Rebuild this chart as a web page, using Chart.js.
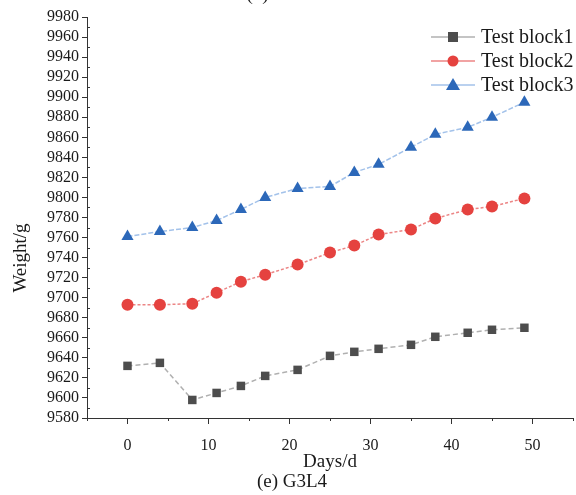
<!DOCTYPE html>
<html>
<head>
<meta charset="utf-8">
<script src="https://cdn.jsdelivr.net/npm/chart.js@4.4.1/dist/chart.umd.min.js"></script>
<style>
  html, body { margin: 0; padding: 0; background: #fff; }
  #wrap { width: 576px; height: 495px; }
</style>
</head>
<body>
<div id="wrap"><canvas id="weightChart" width="576" height="495"></canvas></div>
<script>
const days = [0, 4, 8, 11, 14, 17, 21, 25, 28, 31, 35, 38, 42, 45, 49];
const block1 = [9632, 9635, 9598, 9605, 9612, 9622, 9628, 9642, 9646, 9649, 9653, 9661, 9665, 9668, 9670];
const block2 = [9693, 9693, 9694, 9705, 9716, 9723, 9733, 9745, 9752, 9763, 9768, 9779, 9788, 9791, 9799];
const block3 = [9761, 9766, 9770, 9777, 9788, 9800, 9809, 9811, 9825, 9833, 9850, 9863, 9870, 9880, 9895];
const seriesNames = ['Test block1', 'Test block2', 'Test block3'];

const serif = '"Liberation Serif", "Times New Roman", serif';
const ink = '#1a1a1a';

function pts(vals) {
  return days.map((d, i) => ({ x: d, y: vals[i] }));
}

const styles = [
  { line: '#b0b0b0', mark: '#4d4d4d', shape: 'rect', radius: 6, dash: [5, 3] },
  { line: '#ec8585', mark: '#e5423f', shape: 'circle', radius: 6, dash: [3, 2] },
  { line: '#a3c2ea', mark: '#2c68b9', shape: 'triangle', radius: 7, dash: [5, 2] }
];

const datasets = [block1, block2, block3].map((vals, i) => ({
  label: seriesNames[i],
  data: pts(vals),
  borderColor: styles[i].line,
  borderWidth: 1.5,
  borderDash: styles[i].dash,
  backgroundColor: styles[i].mark,
  pointBackgroundColor: styles[i].mark,
  pointBorderColor: styles[i].mark,
  pointBorderWidth: 0,
  pointStyle: styles[i].shape,
  pointRadius: styles[i].radius,
  tension: 0
}));

// minor ticks, legend and texts
const decor = {
  id: 'decor',
  afterDraw(chart) {
    const { ctx, scales: { x, y }, chartArea } = chart;
    ctx.save();
    ctx.strokeStyle = '#333';
    ctx.lineWidth = 1;
    // y minor ticks (inward)
    for (let v = 9590; v < 9980; v += 20) {
      const py = Math.round(y.getPixelForValue(v)) + 0.5;
      ctx.beginPath();
      ctx.moveTo(chartArea.left, py);
      ctx.lineTo(chartArea.left + 3, py);
      ctx.stroke();
    }
    // x minor ticks
    for (let v = -5; v <= 55; v += 10) {
      const px = Math.round(x.getPixelForValue(v)) + 0.5;
      ctx.beginPath();
      ctx.moveTo(px, chartArea.bottom);
      ctx.lineTo(px, chartArea.bottom + 3);
      ctx.stroke();
    }

    // legend
    ctx.font = '20px ' + serif;
    ctx.textBaseline = 'middle';
    ctx.textAlign = 'left';
    seriesNames.forEach((name, i) => {
      const ly = 37 + i * 24;
      const st = styles[i];
      ctx.strokeStyle = st.line;
      ctx.lineWidth = 1.5;
      ctx.setLineDash([]);
      ctx.beginPath();
      ctx.moveTo(431, ly);
      ctx.lineTo(475, ly);
      ctx.stroke();
      ctx.fillStyle = st.mark;
      ctx.beginPath();
      if (st.shape === 'rect') {
        ctx.rect(448, ly - 5, 10, 10);
      } else if (st.shape === 'circle') {
        ctx.arc(453, ly, 5.5, 0, Math.PI * 2);
      } else {
        ctx.moveTo(453, ly - 7);
        ctx.lineTo(460, ly + 5);
        ctx.lineTo(446, ly + 5);
        ctx.closePath();
      }
      ctx.fill();
      ctx.fillStyle = ink;
      ctx.fillText(name, 481, ly + 1);
    });

    // y title
    ctx.save();
    ctx.translate(21, 258);
    ctx.rotate(-Math.PI / 2);
    ctx.textAlign = 'center';
    ctx.textBaseline = 'middle';
    ctx.font = '19px ' + serif;
    ctx.fillStyle = ink;
    ctx.fillText('Weight/g', 0, 0);
    ctx.restore();

    // captions
    ctx.textAlign = 'center';
    ctx.font = '19px ' + serif;
    ctx.fillStyle = ink;
    ctx.textBaseline = 'alphabetic';
    ctx.fillText('(e) G3L4', 292, 487);
    ctx.fillText('(d) G3L3', 282, 0);
    ctx.restore();
  }
};

new Chart(document.getElementById('weightChart').getContext('2d'), {
  type: 'line',
  data: { datasets },
  options: {
    responsive: false,
    animation: false,
    layout: { autoPadding: false, padding: { top: 17, right: 3, bottom: 22, left: 0 } },
    plugins: {
      legend: { display: false },
      tooltip: { enabled: false }
    },
    scales: {
      x: {
        type: 'linear',
        min: -5,
        max: 55,
        border: { display: true, color: '#333', width: 1 },
        grid: {
          drawOnChartArea: false,
          tickLength: 6,
          tickColor: (c) => (c.tick && c.tick.value % 10 === 0 ? '#333' : 'rgba(0,0,0,0)')
        },
        ticks: {
          stepSize: 5,
          autoSkip: false,
          maxRotation: 0,
          padding: 12,
          color: ink,
          font: { family: serif, size: 16 },
          callback: (v) => (v % 10 === 0 ? String(v) : '')
        },
        title: {
          display: true,
          text: 'Days/d',
          color: ink,
          font: { family: serif, size: 19 },
          padding: { top: 0, bottom: 0 }
        },
        afterFit(scale) {
          scale.height = 55;
          scale.paddingLeft = 0;
          scale.paddingRight = 0;
        }
      },
      y: {
        min: 9580,
        max: 9980,
        border: { display: true, color: '#333', width: 1 },
        grid: { drawOnChartArea: false, tickLength: 5, tickColor: '#333' },
        ticks: {
          stepSize: 20,
          autoSkip: false,
          padding: 3,
          color: ink,
          font: { family: serif, size: 16 },
          callback: (v) => String(v)
        },
        afterFit(scale) { scale.width = 87; }
      }
    }
  },
  plugins: [decor]
});
</script>
</body>
</html>
